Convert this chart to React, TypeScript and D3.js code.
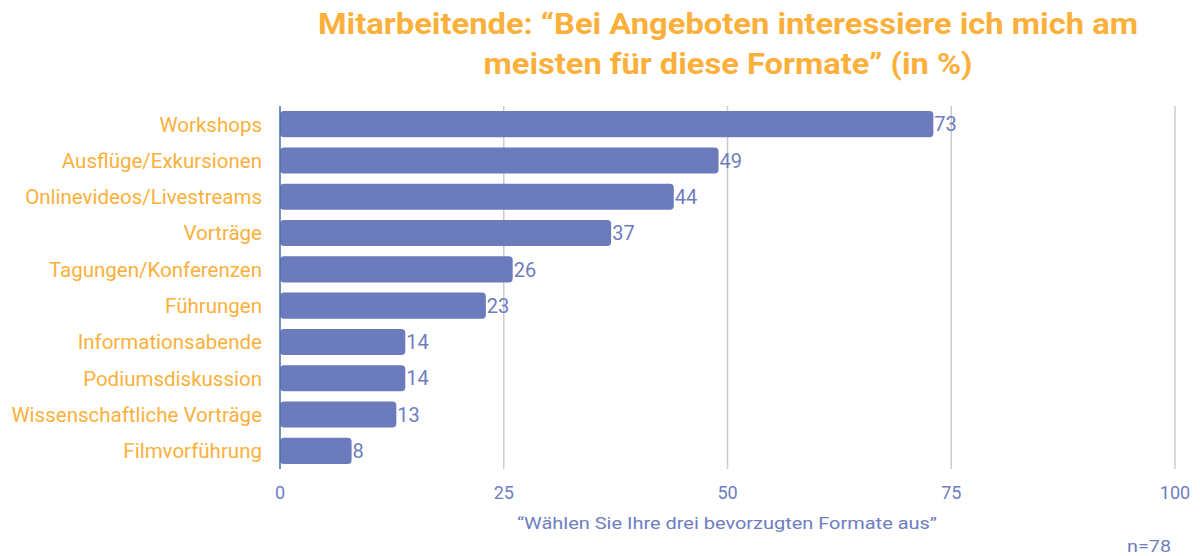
import React from 'react';
import * as d3 from 'd3';

const categories = [
  'Workshops',
  'Ausflüge/Exkursionen',
  'Onlinevideos/Livestreams',
  'Vorträge',
  'Tagungen/Konferenzen',
  'Führungen',
  'Informationsabende',
  'Podiumsdiskussion',
  'Wissenschaftliche Vorträge',
  'Filmvorführung',
];
const values = [73, 49, 44, 37, 26, 23, 14, 14, 13, 8];
const ticks = [0, 25, 50, 75, 100];

const titleLines = [
  'Mitarbeitende: \u201cBei Angeboten interessiere ich mich am',
  'meisten für diese Formate\u201d (in %)',
];
const axisTitle = '\u201cWählen Sie Ihre drei bevorzugten Formate aus\u201d';
const note = 'n=78';

const orange = '#fbb03b';
const barColor = '#6b7bbb';
const textBlue = '#6e7dc0';

export default function App() {
  const width = 1200;
  const height = 556;
  const left = 280;
  const right = 1175;
  const top = 106;
  const bottom = 469;

  const x = d3.scaleLinear().domain([0, 100]).range([left, right]);
  const y = d3
    .scaleBand<string>()
    .domain(categories)
    .range([top, bottom])
    .paddingInner(0.28)
    .paddingOuter(0.14);

  return (
    <svg
      width={width}
      height={height}
      style={{ position: 'absolute', left: 0, top: 0, fontFamily: 'Roboto, sans-serif' }}
    >
      <rect width={width} height={height} fill="#fff" />
      {/* title */}
      <text
        x={728}
        y={34}
        textAnchor="middle"
        fontSize={30}
        fontWeight="bold"
        fill={orange}
        textLength={820}
        lengthAdjust="spacingAndGlyphs"
      >
        {titleLines[0]}
      </text>
      <text
        x={728}
        y={74}
        textAnchor="middle"
        fontSize={30}
        fontWeight="bold"
        fill={orange}
        textLength={489}
        lengthAdjust="spacingAndGlyphs"
      >
        {titleLines[1]}
      </text>

      {/* grid */}
      {ticks.slice(1).map((t) => (
        <line key={t} x1={x(t)} x2={x(t)} y1={top} y2={bottom} stroke="#cccccc" strokeWidth={1.5} />
      ))}

      {/* bars */}
      {categories.map((c, i) => {
        const by = y(c)!;
        const bw = x(values[i]) - x(0);
        return (
          <g key={c}>
            <rect x={x(0)} y={by} width={bw} height={y.bandwidth()} rx={4} fill={barColor} />
            <text
              x={x(values[i]) + 1}
              y={by + y.bandwidth() / 2}
              dy="0.36em"
              fontSize={20}
              fill={textBlue}
            >
              {values[i]}
            </text>
            <text
              x={262}
              y={by + y.bandwidth() / 2}
              dy="0.36em"
              textAnchor="end"
              fontSize={20.5}
              fill={orange}
            >
              {c}
            </text>
          </g>
        );
      })}

      {/* axis line */}
      <line x1={x(0)} x2={x(0)} y1={top} y2={bottom} stroke="#3f6fa8" strokeWidth={1.5} />

      {/* tick labels */}
      {ticks.map((t) => (
        <text key={t} x={x(t)} y={499} textAnchor="middle" fontSize={18} fill={textBlue}>
          {t}
        </text>
      ))}

      <text
        x={727}
        y={529}
        textAnchor="middle"
        fontSize={17}
        fill={textBlue}
        textLength={420}
        lengthAdjust="spacingAndGlyphs"
      >
        {axisTitle}
      </text>
      <text
        x={1171}
        y={552}
        textAnchor="end"
        fontSize={16}
        fill={textBlue}
        textLength={44}
        lengthAdjust="spacingAndGlyphs"
      >
        {note}
      </text>
    </svg>
  );
}
